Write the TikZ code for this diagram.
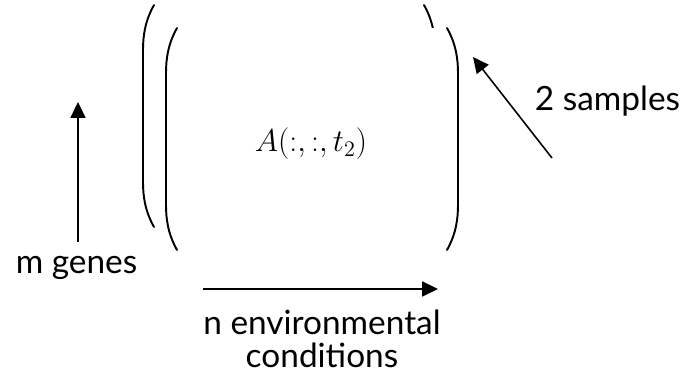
\RequirePackage{fix-cm}
\documentclass[tikz,border=0pt]{standalone}
\usepackage{fontspec}
\setmainfont{Lato}
\usetikzlibrary{arrows.meta}

\begin{document}
\begin{tikzpicture}[paren/.style={line width=1.1pt,line cap=round},
  arr/.style={line width=1pt,-{Triangle[length=9pt,width=8.5pt]}},
  lbl/.style={font=\fontsize{19}{18.5}\selectfont,inner sep=0pt}]
\useasboundingbox (0,0) rectangle (13.96,7.58);
\begin{scope}[shift={(-0.46,0.46)}]
\draw[paren] (3.54,7.02) .. controls (3.36,6.7) and (3.32,6.4) .. (3.32,6.12) -- (3.32,3.48) .. controls (3.32,3.2) and (3.36,2.9) .. (3.54,2.58);
\draw[paren] (8.94,7.02) .. controls (9.12,6.7) and (9.16,6.4) .. (9.16,6.12) -- (9.16,3.48) .. controls (9.16,3.2) and (9.12,2.9) .. (8.94,2.58);
\end{scope}
\fill[white] (3.32,7.02) rectangle (9.16,2.58);
\draw[paren] (3.54,7.02) .. controls (3.36,6.7) and (3.32,6.4) .. (3.32,6.12) -- (3.32,3.48) .. controls (3.32,3.2) and (3.36,2.9) .. (3.54,2.58);
\draw[paren] (8.94,7.02) .. controls (9.12,6.7) and (9.16,6.4) .. (9.16,6.12) -- (9.16,3.48) .. controls (9.16,3.2) and (9.12,2.9) .. (8.94,2.58);
\node[font=\fontsize{18}{21}\selectfont] (slice) at (6.22,4.70) {$A(:,:,t_2)$};
\coordinate (genes-tail) at (1.56,2.74);
\coordinate (genes-tip) at (1.56,5.54);
\coordinate (cond-tail) at (4.06,1.80);
\coordinate (cond-tip) at (8.76,1.80);
\coordinate (samp-tail) at (11.04,4.42);
\coordinate (samp-tip) at (9.46,6.44);
\draw[arr] (genes-tail) -- (genes-tip);
\draw[arr] (cond-tail) -- (cond-tip);
\draw[arr,line width=.9pt] (samp-tail) -- (samp-tip);
\node[lbl,anchor=base] (genes) at (1.53,2.12) {m genes};
\node[lbl,anchor=base] (samples) at (12.15,5.38) {2 samples};
\node[lbl,anchor=base,align=center] (conditions) at (6.44,0.23) {n environmental\\conditions};
\end{tikzpicture}
\end{document}
